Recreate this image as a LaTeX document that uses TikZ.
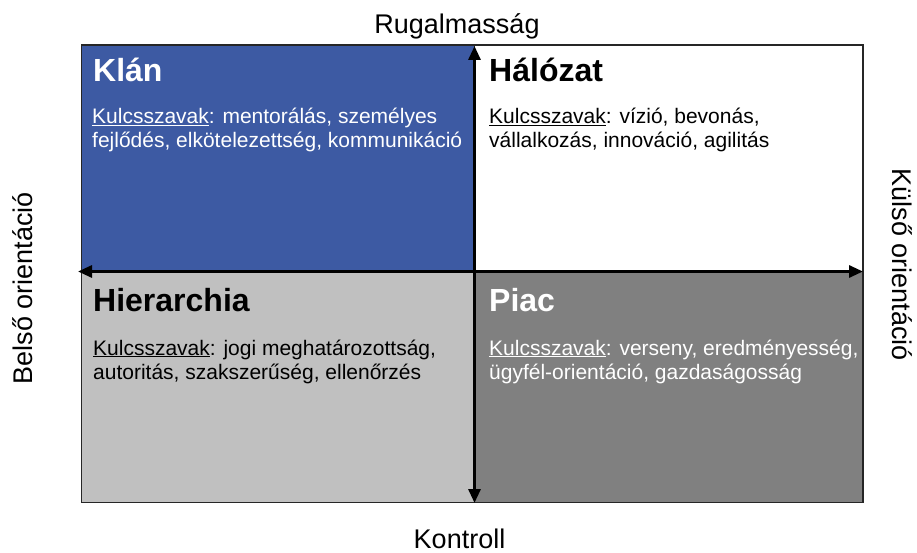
\documentclass[tikz,border=0pt]{standalone}
\usepackage{fontspec}
\setmainfont{Liberation Sans}
\usetikzlibrary{arrows.meta}
\definecolor{klanblue}{HTML}{3D5AA3}
\definecolor{hierlight}{HTML}{C0C0C0}
\definecolor{piacdark}{HTML}{808080}
\tikzset{
  quad/.style={draw=black!85, line width=1.2pt, minimum width=393pt, minimum height=226.5pt, inner sep=0pt},
  quadlow/.style={draw=black!85, line width=1.2pt, minimum width=393pt, minimum height=231pt, inner sep=0pt},
  qtitle/.style={anchor=base west, inner sep=0pt, font=\fontsize{32}{36}\selectfont\bfseries},
  qbody/.style={anchor=base west, inner sep=0pt, font=\fontsize{21}{24}\selectfont},
  axislabel/.style={inner sep=0pt, font=\fontsize{27}{30}\selectfont},
  axisarrow/.style={line width=3pt, {Triangle[length=14pt,width=12pt]}-{Triangle[length=14pt,width=12pt]}}
}
\begin{document}
\begin{tikzpicture}[x=1pt,y=-1pt]
\useasboundingbox (0,0) rectangle (917,553);
% quadrants
\node[quad, fill=klanblue] (klan) at (278,158.25) {};
\node[quad, fill=white, minimum width=388.5pt] (halo) at (668.75,158.25) {};
\node[quadlow, fill=hierlight] (hier) at (278,387) {};
\node[quadlow, fill=piacdark, minimum width=388.5pt] (piac) at (668.75,387) {};
% axes
\coordinate (vtop) at (474.5,46);
\coordinate (vbot) at (474.5,503);
\coordinate (hleft) at (78,271.5);
\coordinate (hright) at (863,271.5);
\draw[axisarrow] (vbot) -- (vtop);
\draw[axisarrow] (hleft) -- (hright);
% titles
\node[qtitle, text=white] (klant) at (93,82) {Klán};
\node[qtitle] (halot) at (489,82) {Hálózat};
\node[qtitle] (hiert) at (93,311) {Hierarchia};
\node[qtitle, text=white] (piact) at (489,311) {Piac};
% bodies
\node[qbody, text=white] (klanb1) at (92,124) {\underline{Kulcsszavak}: mentorálás, személyes};
\node[qbody, text=white] (klanb2) at (92,148) {fejlődés, elkötelezettség, kommunikáció};
\node[qbody] (halob1) at (489,124) {\underline{Kulcsszavak}: vízió, bevonás,};
\node[qbody] (halob2) at (489,148) {vállalkozás, innováció, agilitás};
\node[qbody] (hierb1) at (93,355) {\underline{Kulcsszavak}: jogi meghatározottság,};
\node[qbody] (hierb2) at (93,379) {autoritás, szakszerűség, ellenőrzés};
\node[qbody, text=white] (piacb1) at (489,355) {\underline{Kulcsszavak}: verseny, eredményesség,};
\node[qbody, text=white] (piacb2) at (489,379) {ügyfél-orientáció, gazdaságosság};
% axis labels
\node[axislabel, anchor=base] (rug) at (457,33.5) {Rugalmasság};
\node[axislabel, anchor=base] (kon) at (459.5,548) {Kontroll};
\node[axislabel, rotate=90] (bel) at (23,288) {Belső orientáció};
\node[axislabel, rotate=-90] (kul) at (902,265) {Külső orientáció};
\end{tikzpicture}
\end{document}
